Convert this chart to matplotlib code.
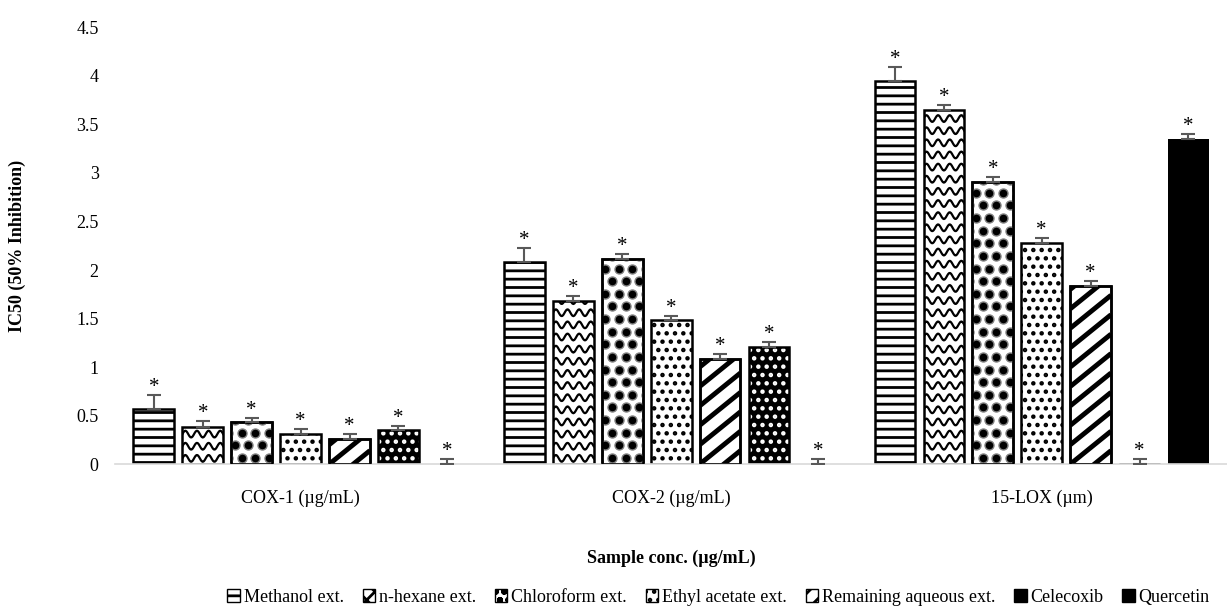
import numpy as np
import matplotlib.pyplot as plt
from matplotlib.patches import Rectangle

plt.rcParams['font.family'] = ['Liberation Serif', 'DejaVu Serif']
plt.rcParams['hatch.linewidth'] = 2.0

categories = ['COX-1 (µg/mL)', 'COX-2 (µg/mL)', '15-LOX (µm)']
series = ['Methanol ext.', 'n-hexane ext.', 'Chloroform ext.', 'Ethyl acetate ext.',
          'Remaining aqueous ext.', 'Celecoxib', 'Quercetin']
values = [
    [0.57, 2.08, 3.95],   # Methanol
    [0.38, 1.68, 3.65],   # n-hexane
    [0.43, 2.11, 2.91],   # Chloroform
    [0.31, 1.48, 2.28],   # Ethyl acetate
    [0.26, 1.08, 1.84],   # Remaining aqueous
    [0.35, 1.21, 0.0],    # Celecoxib
    [0.0, 0.0, 3.35],     # Quercetin
]
errors = [
    [0.14, 0.15, 0.14],
    [0.06, 0.05, 0.05],
    [0.05, 0.05, 0.05],
    [0.05, 0.05, 0.05],
    [0.05, 0.05, 0.05],
    [0.04, 0.05, 0.05],
    [0.05, 0.05, 0.05],
]

fig = plt.figure(figsize=(12.27, 6.06), dpi=100)
ax = fig.add_axes([0.094, 0.234, 0.906, 0.721])

x = np.arange(len(categories))
pitch = 0.132
width = 0.11

hatches = ['--', None, None, '..', None, None, None]
legend_hatch = ['--', 'xx', 'oo', '..', '//', '..', None]
legend_handles = []

for i, name in enumerate(series):
    xs = x + (i - 3) * pitch
    vals = np.array(values[i])
    errs = np.array(errors[i])
    if name == 'Celecoxib':
        ax.bar(xs, vals, width, color='black', edgecolor='white', hatch='..', linewidth=0)
        bars = ax.bar(xs, vals, width, facecolor='none', edgecolor='black', linewidth=1.8)
    elif name == 'Quercetin':
        bars = ax.bar(xs, vals, width, color='black', edgecolor='black', linewidth=0)
    else:
        bars = ax.bar(xs, vals, width, color='white', edgecolor='black',
                      hatch=hatches[i], linewidth=1.8)

    # wave pattern for n-hexane
    if name == 'n-hexane ext.':
        for b in bars:
            x0, w, h = b.get_x(), b.get_width(), b.get_height()
            xx = np.linspace(x0, x0 + w, 41)
            for yy in np.arange(0.06, h + 0.1, 0.125):
                zz = yy + 0.035 * np.sin((xx - x0) / w * 2 * np.pi * 3.5)
                ln, = ax.plot(xx, zz, color='black', lw=1.6)
                ln.set_clip_path(b)
    # ball pattern for chloroform
    if name == 'Chloroform ext.':
        for b in bars:
            x0, w, h = b.get_x(), b.get_width(), b.get_height()
            px, py = [], []
            for r, yy in enumerate(np.arange(0.065, h + 0.1, 0.13)):
                off = 0 if r % 2 == 0 else 0.5
                for c in np.arange(-0.5, 3.5):
                    px.append(x0 + (c + off + 0.25) * w / 3)
                    py.append(yy)
            sc = ax.scatter(px, py, s=42, color='black', edgecolor='#808080', lw=1, zorder=3)
            sc.set_clip_path(b)
            ax.add_patch(Rectangle((x0, 0), w, h, facecolor='none', edgecolor='black', lw=1.8, zorder=4))
    # thick diagonal stripes for remaining aqueous
    if name == 'Remaining aqueous ext.':
        for b in bars:
            x0, w, h = b.get_x(), b.get_width(), b.get_height()
            for y0 in np.arange(-0.4, h + 0.2, 0.2):
                ln, = ax.plot([x0, x0 + w], [y0, y0 + 0.34], color='black', lw=3.5,
                              solid_capstyle='butt')
                ln.set_clip_path(b)
            ax.add_patch(Rectangle((x0, 0), w, h, facecolor='none', edgecolor='black', lw=1.8, zorder=4))

    ax.errorbar(xs, vals, yerr=[np.zeros_like(errs), errs], fmt='none',
                ecolor='#595959', elinewidth=1.5, capsize=5, capthick=1.5, zorder=5)
    for xv, v, e in zip(xs, vals, errs):
        ax.text(xv, v + e - 0.02, '*', ha='center', va='bottom', fontsize=15)

    legend_handles.append(Rectangle((0, 0), 1, 1,
                                    facecolor='black' if name in ('Celecoxib', 'Quercetin') else 'white',
                                    edgecolor='black', hatch=legend_hatch[i], linewidth=1))

ax.set_ylim(0, 4.5)
ax.set_xlim(-0.5, 2.5)
ax.set_yticks(np.arange(0, 4.51, 0.5))
ax.set_yticklabels(['0', '0.5', '1', '1.5', '2', '2.5', '3', '3.5', '4', '4.5'])
ax.set_xticks(x)
ax.set_xticklabels(categories)
ax.tick_params(axis='y', length=0, labelsize=13, pad=12)
ax.tick_params(axis='x', length=0, labelsize=13, pad=18)
for s in ['top', 'right', 'left']:
    ax.spines[s].set_visible(False)
ax.spines['bottom'].set_color('#d9d9d9')
ax.spines['bottom'].set_linewidth(1.2)

ax.set_ylabel('IC50 (50% Inhibition)', fontsize=13, fontweight='bold', labelpad=36)
ax.set_xlabel('Sample conc. (µg/mL)', fontsize=13, fontweight='bold', labelpad=31)

fig.legend(legend_handles, series, loc='center left', bbox_to_anchor=(0.172, 0.014),
           ncol=7, frameon=False, fontsize=13, handlelength=0.7, handleheight=0.7,
           handletextpad=0.2, columnspacing=1.05)

fig.savefig('out.png', dpi=100)
